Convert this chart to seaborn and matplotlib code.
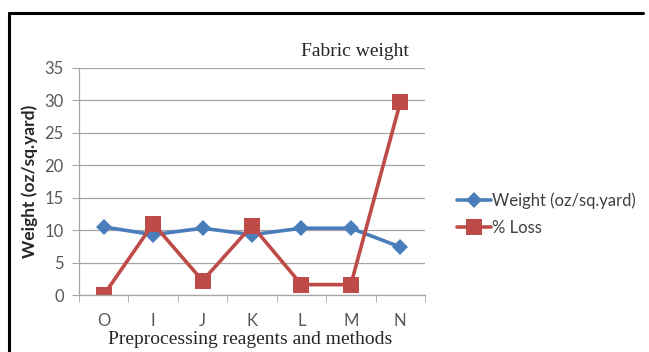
import matplotlib
matplotlib.use("Agg")
import matplotlib.pyplot as plt
import seaborn as sns
import pandas as pd
from matplotlib.lines import Line2D

categories = ["O", "I", "J", "K", "L", "M", "N"]
weight = [10.5, 9.3, 10.3, 9.3, 10.3, 10.3, 7.4]
loss = [0.0, 11.0, 2.2, 10.7, 1.6, 1.6, 29.7]
yticks = [0, 5, 10, 15, 20, 25, 30, 35]

sns.set_style("white")
plt.rcParams["font.family"] = ["Lato", "DejaVu Sans"]

df = pd.DataFrame({
    "cat": categories * 2,
    "val": weight + loss,
    "series": ["Weight (oz/sq.yard)"] * len(categories) + ["% Loss"] * len(categories),
})

fig = plt.figure(figsize=(6.49, 3.52), dpi=100)
ax = fig.add_axes([79 / 649, 1 - 295 / 352, (425 - 79) / 649, (295 - 68) / 352])

sns.lineplot(data=df, x="cat", y="val", hue="series", style="series",
             markers={"Weight (oz/sq.yard)": "D", "% Loss": "s"}, dashes=False,
             palette={"Weight (oz/sq.yard)": "#4a7ebb", "% Loss": "#be4b48"},
             markersize=8, linewidth=2.6, markeredgewidth=0, ax=ax, sort=False)
for line in ax.lines:
    if line.get_marker() == "D":
        line.set_markersize(8.5)
    elif line.get_marker() == "s":
        line.set_markersize(11.5)

ax.set_xlim(-0.5, len(categories) - 0.5)
ax.set_ylim(0, 35)
ax.set_yticks(yticks)
ax.set_yticklabels([str(v) for v in yticks])
ax.set_xticks(range(len(categories)))
ax.set_xticklabels(categories)
ax.yaxis.grid(True, color="#a6a6a6", linewidth=0.9)
ax.set_axisbelow(True)
for s in ["top", "right"]:
    ax.spines[s].set_visible(False)
for s in ["left", "bottom"]:
    ax.spines[s].set_color("#a6a6a6")
    ax.spines[s].set_linewidth(0.9)
ax.tick_params(axis="y", length=5, color="#a6a6a6", labelsize=12, labelcolor="#595959", pad=6, left=True)
ax.tick_params(axis="x", length=0, labelsize=12, labelcolor="#595959", pad=13)
ax.set_xticks([i - 0.5 for i in range(len(categories) + 1)], minor=True)
ax.tick_params(axis="x", which="minor", length=5, color="#a6a6a6", bottom=True)

ax.set_xlabel("")
ax.set_ylabel("Weight (oz/sq.yard)", fontsize=12.5, fontweight="bold", color="#262626", labelpad=5)

leg = ax.legend(loc="center left", bbox_to_anchor=(1.05, 0.355), frameon=False,
                fontsize=12, handlelength=2.0, handletextpad=0.1, labelspacing=0.65)
for t in leg.get_texts():
    t.set_color("#404040")

fig.text(355 / 649, 1 - 52 / 352, "Fabric weight", ha="center", va="center",
         fontsize=14, family="Liberation Serif")
fig.text(250 / 649, 1 - 340 / 352, "Preprocessing reagents and methods", ha="center", va="center",
         fontsize=14, family="Liberation Serif")

fig.add_artist(Line2D([9 / 649, 643 / 649], [1 - 13 / 352, 1 - 13 / 352], color="black", linewidth=2.2,
                      transform=fig.transFigure))
fig.add_artist(Line2D([9 / 649, 9 / 649], [1 - 13 / 352, 0], color="black", linewidth=2.2,
                      transform=fig.transFigure))

fig.savefig("out.png", dpi=100)
